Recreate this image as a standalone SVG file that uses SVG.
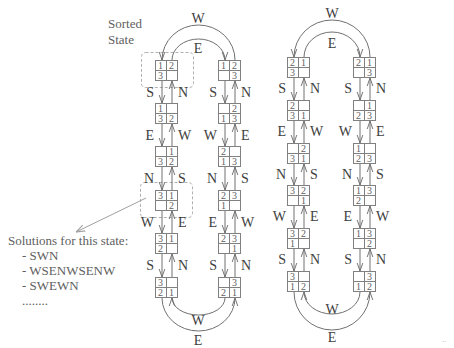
<svg xmlns="http://www.w3.org/2000/svg" xmlns:xlink="http://www.w3.org/1999/xlink" width="454" height="348" viewBox="0 0 454 348">
<style>
.bg{fill:#fff}
.cell{fill:none;stroke:#808080;stroke-width:1}
.d{font-family:"Liberation Serif","Times New Roman",serif;font-size:10px;fill:#606060;text-anchor:middle}
.lb{font-family:"Liberation Serif","Times New Roman",serif;font-size:14px;fill:#404040}
.le{text-anchor:end}
.lm{text-anchor:middle}
.tx{font-family:"Liberation Serif","Times New Roman",serif;font-size:13px;fill:#606060}
.ar{fill:none;stroke:#707070;stroke-width:1;marker-end:url(#ah)}
.arg{fill:none;stroke:#a0a0a0;stroke-width:1;marker-end:url(#ahg)}
.dash{fill:none;stroke:#b0b0b0;stroke-width:1;stroke-dasharray:3 2}
</style>
<defs>
<marker id="ah" viewBox="0 0 10 10" refX="10" refY="5" markerWidth="8" markerHeight="8" markerUnits="userSpaceOnUse" orient="auto">
<path d="M0,1.5 L10,5 L0,8.5" fill="none" stroke="#707070" stroke-width="1.2"/>
</marker>
<marker id="ahg" viewBox="0 0 10 10" refX="10" refY="5" markerWidth="9" markerHeight="9" markerUnits="userSpaceOnUse" orient="auto">
<path d="M0,1.5 L10,5 L0,8.5" fill="none" stroke="#a0a0a0" stroke-width="1.2"/>
</marker>
<g id="grid">
<rect class="cell" x="0.5" y="0.5" width="22" height="20"/>
<path class="cell" d="M11.5 0.5 V20.5 M0.5 10.5 H22.5"/>
</g>
</defs>
<rect class="bg" x="0" y="0" width="454" height="348"/>

<g id="annotations">
<rect class="dash" x="141.5" y="52.5" width="52" height="35" rx="4"/>
<rect class="dash" x="140.5" y="182.5" width="52" height="35" rx="4"/>
<text class="tx" x="108" y="28">Sorted</text>
<text class="tx" x="108" y="44">State</text>
<text class="tx" x="8" y="245">Solutions for this state:</text>
<text class="tx" x="22" y="260">- SWN</text>
<text class="tx" x="22" y="275">- WSENWSENW</text>
<text class="tx" x="22" y="290">- SWEWN</text>
<text class="tx" x="22" y="305">........</text>
<text x="442" y="342" style="font-family:'Liberation Sans',sans-serif;font-size:8px;fill:#b0b0b0">..</text>
</g>

<g id="connectors">
<path class="arg" d="M146 198 L76 232"/>
<!-- left loop left column -->
<path class="ar" d="M162 80.5 V103"/><path class="ar" d="M172 103.5 V81"/>
<path class="ar" d="M162 123.5 V146"/><path class="ar" d="M172 146.5 V124"/>
<path class="ar" d="M162 166.5 V190"/><path class="ar" d="M172 190.5 V167"/>
<path class="ar" d="M162 210.5 V233"/><path class="ar" d="M172 233.5 V211"/>
<path class="ar" d="M162 253.5 V277"/><path class="ar" d="M172 277.5 V254"/>
<!-- left loop right column -->
<path class="ar" d="M225 80.5 V103"/><path class="ar" d="M235 103.5 V81"/>
<path class="ar" d="M225 123.5 V146"/><path class="ar" d="M235 146.5 V124"/>
<path class="ar" d="M225 166.5 V190"/><path class="ar" d="M235 190.5 V167"/>
<path class="ar" d="M225 210.5 V233"/><path class="ar" d="M235 233.5 V211"/>
<path class="ar" d="M225 253.5 V277"/><path class="ar" d="M235 277.5 V254"/>
<!-- left loop arcs -->
<path class="ar" d="M235 60 A36.5 35 0 0 0 162 60"/>
<path class="ar" d="M172 60 A26.5 21 0 0 1 225 60"/>
<path class="ar" d="M225 298 A26.5 17 0 0 1 172 298"/>
<path class="ar" d="M162 298 A36.5 33 0 0 0 235 298"/>
<!-- right loop left column -->
<path class="ar" d="M294 77.5 V100"/><path class="ar" d="M304 100.5 V78"/>
<path class="ar" d="M294 120.5 V143"/><path class="ar" d="M304 143.5 V121"/>
<path class="ar" d="M294 163.5 V185"/><path class="ar" d="M304 185.5 V164"/>
<path class="ar" d="M294 205.5 V228"/><path class="ar" d="M304 228.5 V206"/>
<path class="ar" d="M294 248.5 V271"/><path class="ar" d="M304 271.5 V249"/>
<!-- right loop right column -->
<path class="ar" d="M360 77.5 V100"/><path class="ar" d="M370 100.5 V78"/>
<path class="ar" d="M360 120.5 V143"/><path class="ar" d="M370 143.5 V121"/>
<path class="ar" d="M360 163.5 V185"/><path class="ar" d="M370 185.5 V164"/>
<path class="ar" d="M360 205.5 V228"/><path class="ar" d="M370 228.5 V206"/>
<path class="ar" d="M360 248.5 V271"/><path class="ar" d="M370 271.5 V249"/>
<!-- right loop arcs -->
<path class="ar" d="M370 57 A38 37 0 0 0 294 57"/>
<path class="ar" d="M304 57 A28 25 0 0 1 360 57"/>
<path class="ar" d="M360 292 A28 22 0 0 1 304 292"/>
<path class="ar" d="M294 292 A38 38 0 0 0 370 292"/>
</g>

<g id="labels">
<!-- left loop left column -->
<text class="lb le" x="154" y="96.5">S</text><text class="lb" x="178" y="96.5">N</text>
<text class="lb le" x="154" y="139.5">E</text><text class="lb" x="178" y="139.5">W</text>
<text class="lb le" x="154" y="183">N</text><text class="lb" x="178" y="183">S</text>
<text class="lb le" x="154" y="226.5">W</text><text class="lb" x="178" y="226.5">E</text>
<text class="lb le" x="154" y="270">S</text><text class="lb" x="178" y="270">N</text>
<!-- left loop right column -->
<text class="lb le" x="217" y="96.5">S</text><text class="lb" x="241" y="96.5">N</text>
<text class="lb le" x="217" y="139.5">W</text><text class="lb" x="241" y="139.5">E</text>
<text class="lb le" x="217" y="183">N</text><text class="lb" x="241" y="183">S</text>
<text class="lb le" x="217" y="226.5">E</text><text class="lb" x="241" y="226.5">W</text>
<text class="lb le" x="217" y="270">S</text><text class="lb" x="241" y="270">N</text>
<!-- left loop arcs -->
<text class="lb lm" x="198" y="23">W</text>
<text class="lb lm" x="198" y="53">E</text>
<text class="lb lm" x="198" y="325">W</text>
<text class="lb lm" x="198" y="345">E</text>
<!-- right loop left column -->
<text class="lb le" x="286" y="93">S</text><text class="lb" x="310" y="93">N</text>
<text class="lb le" x="286" y="136">E</text><text class="lb" x="310" y="136">W</text>
<text class="lb le" x="286" y="178.5">N</text><text class="lb" x="310" y="178.5">S</text>
<text class="lb le" x="286" y="221">W</text><text class="lb" x="310" y="221">E</text>
<text class="lb le" x="286" y="264">S</text><text class="lb" x="310" y="264">N</text>
<!-- right loop right column -->
<text class="lb le" x="352" y="93">S</text><text class="lb" x="376" y="93">N</text>
<text class="lb le" x="352" y="136">W</text><text class="lb" x="376" y="136">E</text>
<text class="lb le" x="352" y="178.5">N</text><text class="lb" x="376" y="178.5">S</text>
<text class="lb le" x="352" y="221">E</text><text class="lb" x="376" y="221">W</text>
<text class="lb le" x="352" y="264">S</text><text class="lb" x="376" y="264">N</text>
<!-- right loop arcs -->
<text class="lb lm" x="332" y="18">W</text>
<text class="lb lm" x="332" y="48">E</text>
<text class="lb lm" x="332" y="314">W</text>
<text class="lb lm" x="332" y="342">E</text>
</g>

<!-- left loop, left column -->
<g id="L1"><use href="#grid" x="155" y="60"/><text class="d" x="160.5" y="68.5">1</text><text class="d" x="171.5" y="68.5">2</text><text class="d" x="160.5" y="78.5">3</text></g>
<g id="L2"><use href="#grid" x="155" y="103"/><text class="d" x="160.5" y="111.5">1</text><text class="d" x="160.5" y="121.5">3</text><text class="d" x="171.5" y="121.5">2</text></g>
<g id="L3"><use href="#grid" x="155" y="146"/><text class="d" x="171.5" y="154.5">1</text><text class="d" x="160.5" y="164.5">3</text><text class="d" x="171.5" y="164.5">2</text></g>
<g id="L4"><use href="#grid" x="155" y="190"/><text class="d" x="160.5" y="198.5">3</text><text class="d" x="171.5" y="198.5">1</text><text class="d" x="171.5" y="208.5">2</text></g>
<g id="L5"><use href="#grid" x="155" y="233"/><text class="d" x="160.5" y="241.5">3</text><text class="d" x="171.5" y="241.5">1</text><text class="d" x="160.5" y="251.5">2</text></g>
<g id="L6"><use href="#grid" x="155" y="277"/><text class="d" x="160.5" y="285.5">3</text><text class="d" x="160.5" y="295.5">2</text><text class="d" x="171.5" y="295.5">1</text></g>
<!-- left loop, right column -->
<g id="R1"><use href="#grid" x="218" y="60"/><text class="d" x="223.5" y="68.5">1</text><text class="d" x="234.5" y="68.5">2</text><text class="d" x="234.5" y="78.5">3</text></g>
<g id="R2"><use href="#grid" x="218" y="103"/><text class="d" x="234.5" y="111.5">2</text><text class="d" x="223.5" y="121.5">1</text><text class="d" x="234.5" y="121.5">3</text></g>
<g id="R3"><use href="#grid" x="218" y="146"/><text class="d" x="223.5" y="154.5">2</text><text class="d" x="223.5" y="164.5">1</text><text class="d" x="234.5" y="164.5">3</text></g>
<g id="R4"><use href="#grid" x="218" y="190"/><text class="d" x="223.5" y="198.5">2</text><text class="d" x="234.5" y="198.5">3</text><text class="d" x="223.5" y="208.5">1</text></g>
<g id="R5"><use href="#grid" x="218" y="233"/><text class="d" x="223.5" y="241.5">2</text><text class="d" x="234.5" y="241.5">3</text><text class="d" x="234.5" y="251.5">1</text></g>
<g id="R6"><use href="#grid" x="218" y="277"/><text class="d" x="234.5" y="285.5">3</text><text class="d" x="223.5" y="295.5">2</text><text class="d" x="234.5" y="295.5">1</text></g>
<!-- right loop, left column -->
<g id="P1"><use href="#grid" x="287" y="57"/><text class="d" x="292.5" y="65.5">2</text><text class="d" x="303.5" y="65.5">1</text><text class="d" x="292.5" y="75.5">3</text></g>
<g id="P2"><use href="#grid" x="287" y="100"/><text class="d" x="292.5" y="108.5">2</text><text class="d" x="292.5" y="118.5">3</text><text class="d" x="303.5" y="118.5">1</text></g>
<g id="P3"><use href="#grid" x="287" y="143"/><text class="d" x="303.5" y="151.5">2</text><text class="d" x="292.5" y="161.5">3</text><text class="d" x="303.5" y="161.5">1</text></g>
<g id="P4"><use href="#grid" x="287" y="185"/><text class="d" x="292.5" y="193.5">3</text><text class="d" x="303.5" y="193.5">2</text><text class="d" x="303.5" y="203.5">1</text></g>
<g id="P5"><use href="#grid" x="287" y="228"/><text class="d" x="292.5" y="236.5">3</text><text class="d" x="303.5" y="236.5">2</text><text class="d" x="292.5" y="246.5">1</text></g>
<g id="P6"><use href="#grid" x="287" y="271"/><text class="d" x="292.5" y="279.5">3</text><text class="d" x="292.5" y="289.5">1</text><text class="d" x="303.5" y="289.5">2</text></g>
<!-- right loop, right column -->
<g id="Q1"><use href="#grid" x="353" y="57"/><text class="d" x="358.5" y="65.5">2</text><text class="d" x="369.5" y="65.5">1</text><text class="d" x="369.5" y="75.5">3</text></g>
<g id="Q2"><use href="#grid" x="353" y="100"/><text class="d" x="369.5" y="108.5">1</text><text class="d" x="358.5" y="118.5">2</text><text class="d" x="369.5" y="118.5">3</text></g>
<g id="Q3"><use href="#grid" x="353" y="143"/><text class="d" x="358.5" y="151.5">1</text><text class="d" x="358.5" y="161.5">2</text><text class="d" x="369.5" y="161.5">3</text></g>
<g id="Q4"><use href="#grid" x="353" y="185"/><text class="d" x="358.5" y="193.5">1</text><text class="d" x="369.5" y="193.5">3</text><text class="d" x="358.5" y="203.5">2</text></g>
<g id="Q5"><use href="#grid" x="353" y="228"/><text class="d" x="358.5" y="236.5">1</text><text class="d" x="369.5" y="236.5">3</text><text class="d" x="369.5" y="246.5">2</text></g>
<g id="Q6"><use href="#grid" x="353" y="271"/><text class="d" x="369.5" y="279.5">3</text><text class="d" x="358.5" y="289.5">1</text><text class="d" x="369.5" y="289.5">2</text></g>
</svg>
